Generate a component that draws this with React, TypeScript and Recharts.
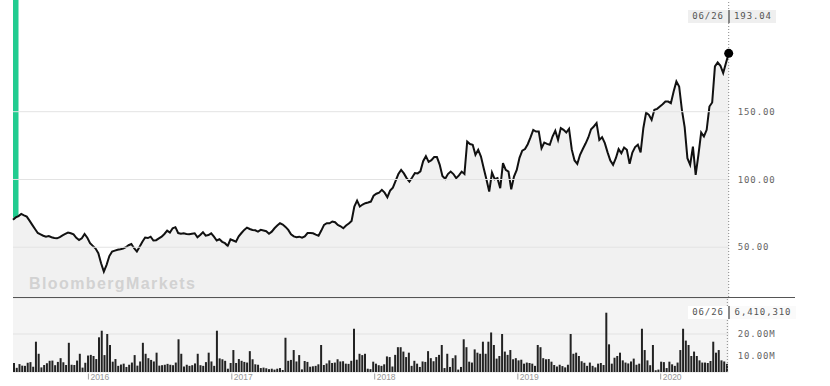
import { ComposedChart, Area, Bar, XAxis, YAxis, CartesianGrid, ReferenceLine, ReferenceArea, ReferenceDot } from 'recharts';

const mono = '"DejaVu Sans Mono", monospace';
const sans = '"Liberation Sans", Arial, sans-serif';

const lastDate = '06/26';
const priceTicks = [50, 100, 150];
const volumeTicks = [10000000, 20000000];
const yearLabels = ['2016', '2017', '2018', '2019', '2020'];
// weeks since 2015-06-26 at which each year starts
const yearStarts = [27, 79.3, 131.4, 183.6, 235.7];

// weekly closes, 2015-06-26 .. 2020-06-26
const closes = [
  70.2, 72, 73, 74.6, 73.5, 72.6, 69.6, 66.5, 63.5, 60.5,
  59.5, 58.5, 57.8, 58.2, 57.4, 56.8, 56.6, 57.5, 58.8, 59.8,
  60.8, 60.3, 59.5, 57, 55.4, 56.6, 59.8, 57, 53, 51,
  49, 45.6, 38.2, 32, 37, 43.5, 46.8, 47.5, 48.2, 48.5,
  49, 50, 51.5, 52.4, 49.3, 46.8, 50.4, 54, 57.2, 56.8,
  57.8, 55, 55.2, 56.5, 57.8, 59.8, 62.3, 60.8, 64, 64.8,
  60.5, 60, 60.3, 59.8, 59.6, 60, 60.3, 57.4, 59.1, 61.1,
  58.5, 59, 60.3, 57.8, 55, 55.9, 54, 53, 51, 55.9,
  55, 54.1, 58, 60.5, 62.8, 64.5, 63.5, 62.8, 62.5, 61.5,
  62.8, 62.3, 61.8, 60, 61.5, 64, 66, 67.7, 66.8, 65,
  62.8, 59.5, 58, 57.4, 57.8, 57, 58, 60.5, 60.5, 60.3,
  59.3, 58.5, 62.3, 66.5, 67.7, 67.7, 69, 68.5, 66.5, 65.5,
  64, 66, 67.5, 69.4, 80, 84.4, 80, 81.5, 82.5, 83,
  83.7, 88, 89.5, 90.3, 92.3, 90.3, 86.9, 91.8, 94, 99,
  104, 107.1, 104.5, 101, 98.5, 101.5, 104.8, 104.5, 106, 113.5,
  117.2, 113, 114.2, 116.5, 116.5, 111, 102.5, 100.5, 104, 105.8,
  104, 101, 103, 105.8, 104, 128, 126.1, 125.6, 118.2, 121.9,
  116.9, 108.3, 100, 91.1, 105.1, 100.2, 101, 93.6, 112, 107.1,
  105.8, 92.8, 102.1, 107.1, 116, 121.3, 122.4, 126, 131, 136.6,
  135.4, 135.4, 123.1, 127.3, 126.3, 125.6, 131.7, 135.9, 129.2, 137.9,
  136.6, 134.6, 137.4, 122, 114, 111.5, 118.2, 122.5, 126.5, 131,
  137.1, 139.1, 141.6, 129.2, 131.2, 126.8, 120, 114, 110.8, 115.7,
  122.4, 119.4, 123.6, 121.9, 111.5, 119.9, 123.9, 125.6, 119.9, 138,
  149.4, 147.7, 144, 151.4, 152.1, 153.8, 155.5, 157.5, 157.5, 156.3,
  164.9, 172.3, 168.6, 151.4, 138.6, 115.7, 110.8, 124.3, 103.4, 118.2,
  134.6, 131.7, 136.6, 153.8, 156.8, 183.4, 186.3, 183.9, 178.5, 185.9,
  193.04,
];

// weekly volume, millions
const volumesM = [
  6.8, 4.6, 6.3, 5.6, 5.5, 6.9, 7.2, 5.1, 16.5, 11.0,
  4.8, 5.9, 6.7, 7.8, 7.9, 5.8, 7.3, 9.0, 7.1, 5.9,
  16.0, 6.0, 5.9, 7.9, 11.0, 4.7, 6.9, 10.2, 10.5, 10.0,
  8.6, 18.5, 21.5, 10.4, 20.0, 15.0, 7.4, 8.6, 5.5, 6.1,
  6.5, 5.0, 6.0, 7.0, 10.4, 5.6, 7.5, 16.0, 11.0, 9.0,
  8.2, 7.5, 11.5, 5.6, 5.8, 6.0, 6.4, 6.0, 5.8, 7.0,
  17.6, 11.0, 5.2, 6.0, 5.5, 5.8, 6.6, 11.0, 5.8, 5.5,
  7.2, 11.5, 7.5, 5.5, 21.5, 8.9, 8.5, 7.8, 4.2, 6.8,
  12.7, 6.8, 8.6, 7.8, 7.3, 7.0, 12.2, 8.5, 6.2, 6.0,
  4.5, 4.7, 4.4, 4.0, 4.2, 3.8, 4.2, 4.5, 3.6, 18.3,
  7.8, 8.2, 12.7, 7.5, 10.4, 3.9, 7.7, 7.3, 5.1, 5.3,
  5.5, 6.2, 15.0, 5.9, 6.6, 8.0, 6.8, 7.0, 8.5, 7.5,
  7.6, 6.5, 6.4, 7.8, 22.4, 8.3, 11.0, 10.4, 11.0, 4.2,
  4.0, 7.4, 6.5, 5.8, 5.5, 6.2, 9.8, 9.5, 5.2, 10.5,
  14.0, 14.0, 12.0, 9.5, 11.5, 5.5, 7.8, 6.5, 5.0, 7.5,
  7.3, 12.2, 9.0, 7.6, 9.5, 10.5, 15.0, 4.5, 11.0, 5.0,
  9.0, 10.3, 3.8, 5.0, 17.6, 14.0, 7.4, 7.0, 13.0, 11.5,
  11.0, 16.5, 11.0, 16.5, 20.7, 15.0, 8.8, 10.0, 20.0, 12.0,
  10.5, 12.7, 8.5, 9.0, 8.0, 8.3, 6.5, 7.0, 6.8, 6.5,
  5.5, 15.0, 14.0, 9.0, 8.5, 8.6, 7.4, 5.9, 5.2, 6.0,
  5.4, 4.8, 6.0, 20.0, 11.0, 11.5, 10.0, 7.6, 6.9, 5.5,
  7.0, 5.5, 4.8, 6.5, 6.8, 5.9, 29.7, 15.3, 6.5, 9.2,
  10.0, 11.5, 8.0, 7.0, 6.6, 7.5, 8.8, 6.0, 6.5, 22.4,
  12.7, 8.0, 5.8, 15.0, 3.5, 3.8, 7.4, 7.2, 4.5, 7.4,
  6.2, 5.5, 7.0, 12.7, 22.4, 17.0, 15.0, 10.0, 12.0, 10.0,
  8.0, 7.0, 7.0, 6.8, 7.7, 16.5, 11.5, 12.7, 8.0, 7.5,
  6.41031,
];

const priceData = closes.map((c, i) => ({ week: i, close: c }));
const volumeData = volumesM.map((v, i) => ({ week: i, volume: Math.round(v * 1e6) }));
const lastIdx = closes.length - 1;
const priceMin = 13.3;
const priceMax = 232.4;

function YearTick(props: any) {
  const { x, y, payload } = props;
  const i = yearStarts.indexOf(payload.value);
  return (
    <g>
      <line x1={x} x2={x} y1={y + 1.5} y2={y + 7.5} stroke="#a0a0a0" />
      <text x={x + 2} y={y + 7.8} fill="#999" fontSize={8.5} fontFamily={sans}>
        {yearLabels[i]}
      </text>
    </g>
  );
}

const labelBox = {
  position: 'absolute' as const,
  height: 13,
  lineHeight: '13px',
  fontFamily: mono,
  fontSize: 9,
  letterSpacing: 0.9,
  color: '#555',
  textAlign: 'center' as const,
};

export default function App() {
  return (
    <div style={{ position: 'absolute', left: 0, top: 0, width: 830, height: 386, background: '#fff' }}>
      {/* price */}
      <ComposedChart width={830} height={297} data={priceData} margin={{ top: 0, right: 0, bottom: 0, left: 13 }}>
        <XAxis type="number" dataKey="week" domain={[0, lastIdx]} hide />
        <YAxis
          orientation="right"
          domain={[priceMin, priceMax]}
          ticks={priceTicks}
          width={101.3}
          axisLine={false}
          tickLine={false}
          tickSize={9}
          tickMargin={0}
          tick={{ fill: '#666', fontSize: 9, fontFamily: mono, letterSpacing: 0.9 }}
          tickFormatter={(v) => Number(v).toFixed(2)}
        />
        <ReferenceArea x1={0} x2={2} y1={closes[0] + 1.5} y2={priceMax} fill="#22cc90" fillOpacity={1} stroke="none" />
        <Area
          type="linear"
          dataKey="close"
          stroke="#111"
          strokeWidth={2}
          fill="#f1f1f1"
          fillOpacity={1}
          dot={false}
          activeDot={false}
          isAnimationActive={false}
        />
        {priceTicks.map((t) => (
          <ReferenceLine key={t} y={t} stroke="#e3e3e3" />
        ))}
        <ReferenceLine x={lastIdx} stroke="#888" strokeDasharray="1 2" />
        <ReferenceDot x={lastIdx} y={closes[lastIdx]} r={4.5} fill="#000" stroke="none" />
      </ComposedChart>

      {/* volume */}
      <div style={{ position: 'absolute', left: 0, top: 298 }}>
        <ComposedChart width={830} height={88} data={volumeData} margin={{ top: 0, right: 0, bottom: 0, left: 13 }}>
          <CartesianGrid vertical={false} fill="#f4f4f4" stroke="#e2e2e2" />
          <XAxis
            type="number"
            dataKey="week"
            domain={[-0.5, lastIdx + 0.5]}
            ticks={yearStarts}
            interval={0}
            height={14}
            axisLine={false}
            tickLine={false}
            tickSize={0}
            tickMargin={0}
            tick={<YearTick />}
          />
          <YAxis
            orientation="right"
            domain={[2.7e6, 36.4e6]}
            ticks={volumeTicks}
            width={101.3}
            axisLine={false}
            tickLine={false}
            tickSize={9}
            tickMargin={0}
            tick={{ fill: '#666', fontSize: 9, fontFamily: mono, letterSpacing: 0.9 }}
            tickFormatter={(v) => (Number(v) / 1e6).toFixed(2) + 'M'}
          />
          <Bar dataKey="volume" fill="#222" barSize={2} isAnimationActive={false} />
          <ReferenceLine x={lastIdx} stroke="#888" strokeDasharray="1 2" />
        </ComposedChart>
      </div>

      {/* divider */}
      <div style={{ position: 'absolute', left: 13, top: 297, width: 782, height: 1, background: '#555' }} />

      {/* watermark */}
      <div
        style={{
          position: 'absolute',
          left: 29,
          top: 274,
          fontFamily: sans,
          fontWeight: 'bold',
          fontSize: 16,
          letterSpacing: 1.4,
          color: '#d2d2d2',
          lineHeight: '19px',
        }}
      >
        BloombergMarkets
      </div>

      {/* last value labels */}
      <div style={{ ...labelBox, left: 688, top: 10, width: 40, background: '#efefef' }}>{lastDate}</div>
      <div style={{ position: 'absolute', left: 728, top: 10, width: 1.5, height: 13, background: '#888' }} />
      <div style={{ ...labelBox, left: 730, top: 10, width: 46, background: '#efefef' }}>{closes[lastIdx].toFixed(2)}</div>

      <div style={{ ...labelBox, left: 688, top: 306, width: 40, background: '#fff' }}>{lastDate}</div>
      <div style={{ position: 'absolute', left: 728, top: 306, width: 1.5, height: 13, background: '#888' }} />
      <div style={{ ...labelBox, left: 730, top: 306, width: 66, background: '#fafafa' }}>
        {volumeData[lastIdx].volume.toLocaleString('en-US')}
      </div>
    </div>
  );
}
